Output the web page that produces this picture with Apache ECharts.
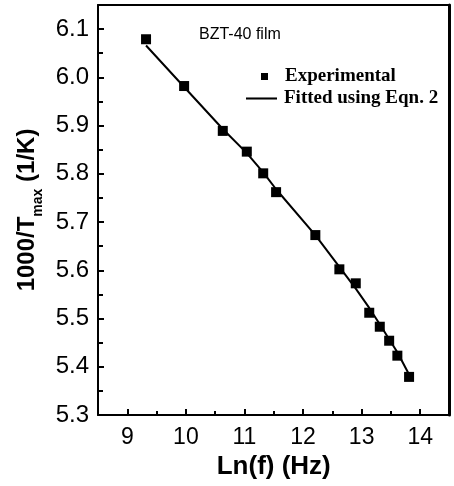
<!DOCTYPE html>
<html>
<head>
<meta charset="utf-8">
<script src="https://cdn.jsdelivr.net/npm/echarts@6/dist/echarts.min.js"></script>
<style>html,body{margin:0;padding:0;background:#fff;}#c{width:454px;height:486px;}</style>
</head>
<body>
<div id="c"></div>
<script>
// Data
const lnF = [9.32, 9.97, 10.63, 11.04, 11.32, 11.54, 12.21, 12.62, 12.90, 13.13, 13.31, 13.47, 13.61, 13.81];
const invTmaxExp = [6.079, 5.982, 5.889, 5.846, 5.801, 5.762, 5.673, 5.602, 5.573, 5.512, 5.483, 5.454, 5.423, 5.379];
const invTmaxFit = [6.066, 5.980, 5.893, 5.843, 5.803, 5.768, 5.673, 5.607, 5.562, 5.522, 5.488, 5.457, 5.430, 5.384];
const seriesNames = ['Experimental', 'Fitted using Eqn. 2'];
const annotation = 'BZT-40 film';

const expData = lnF.map((x, i) => [x, invTmaxExp[i]]);
const fitData = lnF.map((x, i) => [x, invTmaxFit[i]]);

const chart = echarts.init(document.getElementById('c'), null, {renderer: 'canvas'});
const sans = 'Liberation Sans, Arial, sans-serif';
const serif = 'Liberation Serif, Times New Roman, serif';
const X_MIN = 8.5, X_MAX = 14.5, Y_MIN = 5.3, Y_MAX = 6.15;

const frameAxis = {
  axisLine: {show: true, onZero: false, lineStyle: {color: '#000', width: 2}},
  axisTick: {show: false}, minorTick: {show: false},
  axisLabel: {show: false}, splitLine: {show: false}
};

chart.setOption({
  animation: false,
  backgroundColor: '#fff',
  title: {
    text: annotation,
    left: 194, top: 22,
    textStyle: {fontFamily: sans, fontSize: 16, fontWeight: 'normal', color: '#000'}
  },
  legend: [
    {
      data: [{name: seriesNames[0], icon: 'rect', itemStyle: {color: '#000', opacity: 1}}],
      left: 256, top: 62,
      itemWidth: 7, itemHeight: 7,
      textStyle: {fontFamily: serif, fontSize: 19, fontWeight: 'bold', color: '#000', padding: [0, 0, 0, 12]}
    },
    {
      data: [{name: seriesNames[1], icon: 'path://M0,0H30V2H0Z', itemStyle: {color: '#000'}}],
      left: 241, top: 84,
      itemWidth: 31, itemHeight: 2.5,
      textStyle: {fontFamily: serif, fontSize: 19, fontWeight: 'bold', color: '#000', padding: [0, 0, 0, 2]}
    }
  ],
  grid: {left: 98, right: 4.5, top: 5, bottom: 71},
  xAxis: [
    {
      type: 'value',
      min: X_MIN, max: X_MAX, splitNumber: 6,
      name: 'Ln(f) (Hz)',
      nameLocation: 'middle', nameGap: 36,
      nameTextStyle: {fontFamily: sans, fontSize: 26, fontWeight: 'bold', color: '#000'},
      axisLine: {show: true, onZero: false, lineStyle: {color: '#000', width: 2}},
      axisTick: {show: false},
      minorTick: {show: false},
      splitLine: {show: false},
      axisLabel: {
        fontFamily: sans, fontSize: 23, color: '#000', margin: 11,
        showMinLabel: false, showMaxLabel: false,
        formatter: v => String(v)
      }
    },
    Object.assign({type: 'value', position: 'top', min: X_MIN, max: X_MAX}, frameAxis),
    {
      type: 'value', position: 'bottom',
      min: X_MIN, max: X_MAX, splitNumber: 6,
      axisLine: {show: false, onZero: false},
      axisTick: {show: true, inside: true, length: 6, lineStyle: {color: '#000', width: 2}},
      minorTick: {show: true, splitNumber: 2, length: 4, lineStyle: {color: '#000', width: 2}},
      splitLine: {show: false},
      axisLabel: {show: true, color: 'rgba(0,0,0,0)', showMinLabel: false, showMaxLabel: false}
    }
  ],
  yAxis: [
    {
      type: 'value',
      min: Y_MIN, max: Y_MAX, interval: 0.1,
      name: '{n|1000/T}{s|max}{n| (1/K)}',
      nameLocation: 'middle', nameGap: 50, nameRotate: 90,
      nameTextStyle: {
        color: '#000',
        rich: {
          n: {fontFamily: sans, fontSize: 24, fontWeight: 'bold', color: '#000', lineHeight: 34, verticalAlign: 'middle'},
          s: {fontFamily: sans, fontSize: 14, fontWeight: 'bold', color: '#000', lineHeight: 34, verticalAlign: 'bottom'}
        }
      },
      axisLine: {show: true, onZero: false, lineStyle: {color: '#000', width: 2}},
      axisTick: {show: false},
      minorTick: {show: false},
      splitLine: {show: false},
      axisLabel: {
        fontFamily: sans, fontSize: 24, color: '#000', margin: 9,
        showMaxLabel: false,
        formatter: v => v.toFixed(1)
      }
    },
    Object.assign({type: 'value', position: 'right', min: Y_MIN, max: Y_MAX}, frameAxis, {
      axisLine: {show: true, onZero: false, lineStyle: {color: '#000', width: 3}}
    }),
    {
      type: 'value', position: 'left',
      min: Y_MIN, max: Y_MAX, interval: 0.1,
      axisLine: {show: false, onZero: false},
      axisTick: {show: true, inside: true, length: 6, lineStyle: {color: '#000', width: 2}},
      minorTick: {show: true, splitNumber: 2, length: 5, lineStyle: {color: '#000', width: 2}},
      splitLine: {show: false},
      axisLabel: {show: true, color: 'rgba(0,0,0,0)', showMaxLabel: false}
    }
  ],
  series: [
    {
      name: seriesNames[0],
      type: 'scatter',
      xAxisIndex: 0, yAxisIndex: 0,
      data: expData,
      symbol: 'rect', symbolSize: 10,
      itemStyle: {color: '#000', opacity: 1},
      z: 3
    },
    {
      name: seriesNames[1],
      type: 'line',
      xAxisIndex: 0, yAxisIndex: 0,
      data: fitData,
      showSymbol: false, symbol: 'none',
      lineStyle: {color: '#000', width: 2},
      itemStyle: {color: '#000'},
      z: 2
    }
  ]
});
</script>
</body>
</html>
